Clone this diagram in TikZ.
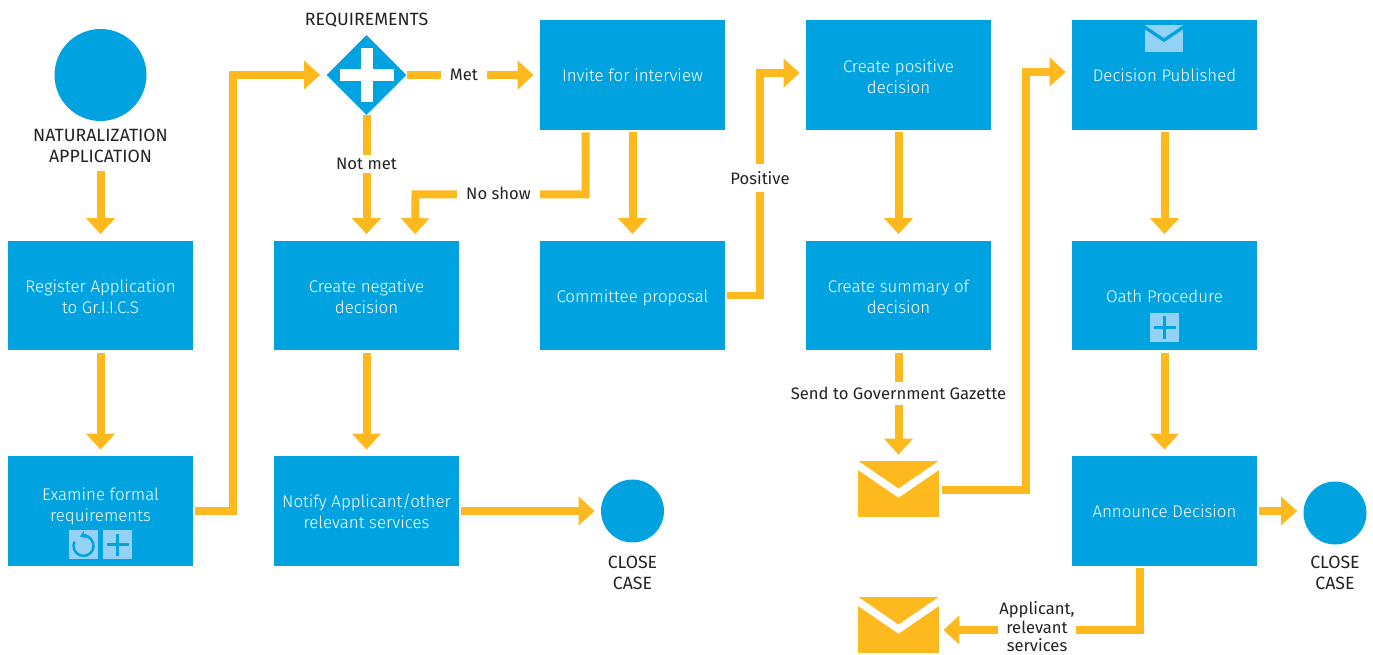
\documentclass[tikz,border=0pt]{standalone}
\usepackage{fontspec}
\setmainfont{Fira Sans}
\newfontfamily\lightface{Fira Sans Light}
\usetikzlibrary{arrows.meta,calc,shapes.geometric}
\definecolor{eublue}{RGB}{0,163,224}
\definecolor{euyellow}{RGB}{253,185,30}
\definecolor{eulight}{RGB}{147,210,245}
\definecolor{eutext}{RGB}{35,35,35}
\tikzset{
  basenode/.style = {align=center, inner sep=0pt, font=\fontsize{9.45}{12}\selectfont},
  taskbox/.style = {basenode, rectangle, fill=eublue, text=white,
    font=\fontsize{9.6}{12}\selectfont\lightface,
    minimum width=3.7cm, minimum height=2.2cm},% blue task
  oneline/.style = {text height=8.6pt, text depth=1pt},% single text line in a task
  twoline/.style = {text height=21pt, text depth=0pt},% two text lines in a task
  tasktxt/.style = {basenode, text=white, font=\fontsize{9.6}{12}\selectfont\lightface},
  gatenode/.style = {diamond, aspect=1, fill=eublue, inner sep=0pt,
    minimum width=1.6cm, minimum height=1.6cm},% decision
  eventnode/.style = {circle, fill=eublue, inner sep=0pt},
  txtnode/.style = {basenode, text=eutext},
  capsnode/.style = {txtnode, font=\fontsize{10.1}{12}\selectfont},% upper case labels
  lblnode/.style = {basenode, text=eutext, fill=white, inner xsep=5pt, inner ysep=2pt},% sits on a connector
  mailnode/.style = {rectangle, fill=euyellow, inner sep=0pt,
    minimum width=1.62cm, minimum height=1.12cm},
  iconnode/.style = {rectangle, fill=eulight, inner sep=0pt, minimum size=0.58cm},
  flow/.style = {draw=euyellow, line width=0.16cm, line join=miter,
    -{Triangle[length=0.32cm,width=0.56cm]}, shorten >=0.12cm, shorten <=0.04cm}
}
% fold of an envelope: node, colour, drop of the fold, thickness
\newcommand{\mailfold}[4]{\fill[#2] (#1.north west) -- ($(#1.north)+(0,#3)$)
  -- (#1.north east) -- ($(#1.north east)+(0,#4)$)
  -- ($(#1.north)+(0,#3+#4)$) -- ($(#1.north west)+(0,#4)$) -- cycle;}
% plus sign: node, colour, half length, half thickness
\newcommand{\plussign}[4]{\fill[#2] ($(#1)+(-#4,-#3)$) rectangle ($(#1)+(#4,#3)$);
  \fill[#2] ($(#1)+(-#3,-#4)$) rectangle ($(#1)+(#3,#4)$);}
\begin{document}
\begin{tikzpicture}[x=0.02cm,y=-0.02cm]
\useasboundingbox (0,0) rectangle (1373,655);
% first column
\node [eventnode, minimum size=1.84cm] (start) at (100.5,75) {};
\node [capsnode] (startlbl) at (100.5,146) {NATURALIZATION\\APPLICATION};
\node [taskbox, twoline] (register) at (100.5,295.5) {Register Application\\to Gr.I.I.C.S};
\node [taskbox] (examine) at (100.5,511) {};
\node [tasktxt] (examinelbl) at (100.5,506) {Examine formal\\requirements};
\node [iconnode] (loopicon) at (83.5,544.5) {};
\node [iconnode] (plusa) at (117.5,544.5) {};
% second column
\node [capsnode] (gatelbl) at (366.5,20) {REQUIREMENTS};
\node [gatenode] (gate) at (366.5,75) {};
\node [taskbox, twoline] (negative) at (366.5,295.5) {Create negative\\decision};
\node [taskbox] (notify) at (366.5,511) {Notify Applicant/other\\relevant services};
\node [eventnode, minimum size=1.26cm] (closea) at (632.5,511) {};
\node [capsnode] (closealbl) at (632.5,572.5) {CLOSE\\CASE};
% third column
\node [taskbox, oneline] (invite) at (632.5,75) {Invite for interview};
\node [taskbox, oneline] (committee) at (632.5,295.5) {Committee proposal};
% fourth column
\node [taskbox, twoline] (positive) at (898.5,75) {Create positive\\decision};
\node [taskbox, twoline] (summary) at (898.5,295.5) {Create summary of\\decision};
\node [mailnode] (mailgaz) at (898.5,489) {};
\node [mailnode] (mailapp) at (898.5,625) {};
% fifth column
\node [taskbox, oneline] (published) at (1164.5,75) {Decision Published};
\node [iconnode, minimum width=0.76cm, minimum height=0.54cm] (mailicon) at (1164,39) {};
\node [taskbox, oneline] (oath) at (1164.5,295.5) {Oath Procedure};
\node [iconnode] (plusb) at (1164.5,327.5) {};
\node [taskbox, oneline] (announce) at (1164.5,511) {Announce Decision};
\node [eventnode, minimum size=1.26cm] (closeb) at (1335,513) {};
\node [capsnode] (closeblbl) at (1335,572.5) {CLOSE\\CASE};
% icons
\plussign{gate}{white}{27}{6}
\plussign{plusa}{eublue}{11}{1.6}
\plussign{plusb}{eublue}{11}{1.6}
\mailfold{mailgaz}{white}{28}{9}
\mailfold{mailapp}{white}{28}{9}
\mailfold{mailicon}{eublue}{13}{4}
\draw [eublue, line width=0.05cm, {Stealth[length=0.11cm,width=0.16cm]}-]
  ($(loopicon)+(-3.4,-8)$) arc (-110:205:10);
% connectors
\draw [flow] ($(startlbl.south)+(0,6)$) -- (register.north);
\draw [flow] (register.south) -- (examine.north);
\draw [flow] (examine.east) -| ($(gate.west)+(-93,200)$) |- (gate.west);
\draw [flow, shorten <=0pt] (gate.east) -- node [lblnode, pos=0.43, inner xsep=5pt] (metlbl) {Met} (invite.west);
\draw [flow, shorten <=0pt] (gate.south) -- node [lblnode, pos=0.39] (notmetlbl) {Not met} (negative.north);
\draw [flow] (negative.south) -- (notify.north);
\draw [flow] (notify.east) -- (closea.west);
\draw [flow] ($(invite.south)+(-47,0)$) |- ($(invite.south)+(-217,64)$) -- ($(negative.north)+(48.5,0)$);
\node [lblnode] (noshowlbl) at (498.5,193) {No show};
\draw [flow] (invite.south) -- (committee.north);
\draw [flow] (committee.east) -| ($(positive.west)+(-46,100)$) |- ($(positive.west)+(0,-2)$);
\node [lblnode, inner ysep=4pt] (positivelbl) at (760,178) {Positive};
\draw [flow] (positive.south) -- (summary.north);
\draw [flow] (summary.south) -- node [lblnode, pos=0.39, inner ysep=3pt] (gazettelbl) {Send to Government Gazette} (mailgaz.north);
\draw [flow, shorten <=0.06cm] ($(mailgaz.east)+(0,1)$) -| ($(published.west)+(-46,100)$) |- ($(published.west)+(0,-3)$);
\draw [flow] (published.south) -- (oath.north);
\draw [flow] (oath.south) -- (announce.north);
\draw [flow] (announce.east) -- (announce.east -| closeb.west);
\draw [flow, shorten >=0.08cm] ($(announce.south)+(-24.5,0)$) |- ($(mailapp.east)+(0,5)$);
\node [lblnode, inner xsep=1pt, inner ysep=0pt, font=\fontsize{9.45}{10.5}\selectfont] (serviceslbl) at (1037,627) {Applicant,\\relevant\\services};
\end{tikzpicture}
\end{document}
